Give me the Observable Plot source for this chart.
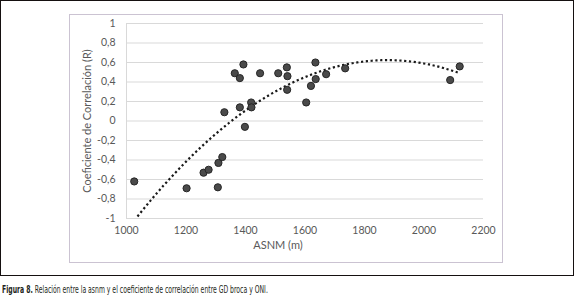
<!DOCTYPE html>
<html>
<head>
<meta charset="utf-8">
<script src="https://cdn.jsdelivr.net/npm/d3@7"></script>
<script src="https://cdn.jsdelivr.net/npm/@observablehq/plot@0.6"></script>
<style>
  html, body { margin: 0; padding: 0; background: #fff; }
  #wrap { position: relative; width: 575px; height: 304px; }
  #outer { position: absolute; left: 0; top: 0; width: 572px; height: 274px; border: 1.5px solid #151010; }
  #inner { position: absolute; left: 69px; top: 14px; width: 432px; height: 247px; border: 1px solid #cbc3d2; }
  #chart { position: absolute; left: 0; top: 0; }
  #caption { position: absolute; left: 2px; top: 284px; font-family: "DejaVu Sans Condensed", "Liberation Sans Narrow", sans-serif; font-stretch: condensed; font-size: 10px; color: #231f20; white-space: nowrap; transform-origin: 0 0; transform: scaleX(0.68); }
  #caption b { color: #231f20; }
</style>
</head>
<body>
<div id="wrap">
  <div id="outer"></div>
  <div id="inner"></div>
  <div id="chart"></div>
  <div id="caption"><b>Figura 8.</b> Relación entre la asnm y el coeficiente de correlación entre GD broca y ONI.</div>
</div>
<script>
// Altitude above sea level (m)
const asnm = [1026, 1202, 1259, 1276, 1307, 1309, 1322, 1329, 1364, 1381, 1381, 1393, 1398, 1419, 1420,
              1449, 1510, 1539, 1540, 1541, 1604, 1620, 1635, 1636, 1671, 1735, 2088, 2120];
// Correlation coefficient (R)
const coef = [-0.62, -0.69, -0.53, -0.50, -0.68, -0.43, -0.37, 0.09, 0.49, 0.14, 0.44, 0.58, -0.06, 0.19, 0.14,
              0.49, 0.49, 0.55, 0.32, 0.46, 0.19, 0.36, 0.60, 0.43, 0.48, 0.54, 0.42, 0.56];
const xTicks = [1000, 1200, 1400, 1600, 1800, 2000, 2200];
const yTicks = [-1, -0.8, -0.6, -0.4, -0.2, 0, 0.2, 0.4, 0.6, 0.8, 1];
const xTitle = "ASNM (m)";
const yTitle = "Coeficiente de Correlación (R)";

const points = asnm.map((x, i) => ({x, y: coef[i]}));

// Quadratic least-squares trendline (polynomial trend, order 2)
function polyFit2(xs, ys) {
  const m = d3.mean(xs);
  const S = [[0,0,0],[0,0,0],[0,0,0]], T = [0,0,0];
  xs.forEach((x0, i) => {
    const x = x0 - m, p = [1, x, x * x];
    for (let r = 0; r < 3; r++) { T[r] += p[r] * ys[i]; for (let c = 0; c < 3; c++) S[r][c] += p[r] * p[c]; }
  });
  const A = S.map((row, r) => [...row, T[r]]);
  for (let c = 0; c < 3; c++) {
    let piv = c; for (let r = c + 1; r < 3; r++) if (Math.abs(A[r][c]) > Math.abs(A[piv][c])) piv = r;
    [A[c], A[piv]] = [A[piv], A[c]];
    for (let r = 0; r < 3; r++) if (r !== c) { const f = A[r][c] / A[c][c]; for (let k = c; k < 4; k++) A[r][k] -= f * A[c][k]; }
  }
  const b = A.map((row, r) => row[3] / row[r]);
  return x => { const u = x - m; return b[0] + b[1] * u + b[2] * u * u; };
}
const trend = polyFit2(asnm, coef);
const [xmin, xmax] = d3.extent(asnm);
const trendPts = d3.range(xmin, xmax + 0.001, (xmax - xmin) / 200).map(x => ({x, y: trend(x)})).filter(d => d.y >= -1);

const fmtY = d => String(d).replace(".", ",");

const chart = Plot.plot({
  width: 575,
  height: 276,
  marginLeft: 126,
  marginRight: 92,
  marginTop: 23,
  marginBottom: 58,
  style: {fontFamily: "Lato, sans-serif", fontSize: "10.5px", color: "#595959", background: "transparent", overflow: "visible"},
  x: {domain: [1000, 2200], ticks: xTicks, tickSize: 0, tickPadding: 8, tickFormat: d => String(d), label: null},
  y: {domain: [-1, 1], ticks: yTicks, tickSize: 0, tickPadding: 11, tickFormat: fmtY, label: null},
  marks: [
    Plot.gridY(yTicks, {stroke: "#d9d9d9", strokeOpacity: 1, strokeWidth: 1}),
    Plot.ruleX([1000], {stroke: "#d9d9d9", strokeWidth: 1}),
    Plot.axisX({ticks: xTicks, tickSize: 0, tickPadding: 8, tickFormat: d => String(d), label: null, fill: "#595959"}),
    Plot.axisY({ticks: yTicks, tickSize: 0, tickPadding: 11, tickFormat: fmtY, label: null, fill: "#595959"}),
    Plot.line(trendPts, {x: "x", y: "y", stroke: "#1a1a1a", strokeWidth: 2.2, strokeDasharray: "2.2,2.6", strokeLinecap: "butt"}),
    Plot.dot(points, {x: "x", y: "y", r: 3.6, fill: "#4a4a4a", stroke: "#262626", strokeWidth: 1}),
    Plot.text([xTitle], {frameAnchor: "bottom", dx: -27, dy: 30, text: d => d, fill: "#595959", fontSize: 11}),
    Plot.text([yTitle], {frameAnchor: "left", dx: -39, rotate: -90, textAnchor: "middle", text: d => d, fill: "#595959", fontSize: 11})
  ]
});
document.getElementById("chart").appendChild(chart);
</script>
</body>
</html>
